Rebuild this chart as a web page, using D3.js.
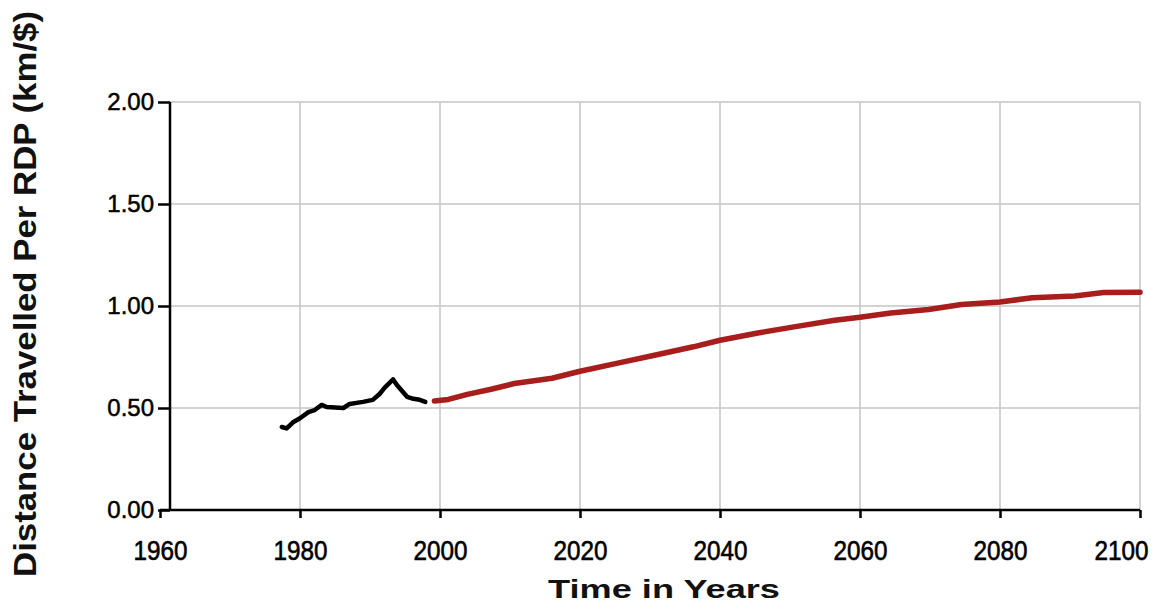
<!DOCTYPE html>
<html>
<head>
<meta charset="utf-8">
<script src="https://cdn.jsdelivr.net/npm/d3@7"></script>
<style>
  html, body { margin: 0; padding: 0; background: #fff; }
  svg { display: block; }
</style>
</head>
<body>
<script>
// ---- data ----
const histYears  = [1977.4, 1978.1, 1979.0, 1980.0, 1981.2, 1982.1, 1983.1, 1983.8, 1986.2, 1987.1, 1989.0, 1990.4, 1991.4, 1992.1, 1993.3, 1993.9, 1995.3, 1996.2, 1997.1, 1997.9];
const histValues = [0.407, 0.400, 0.430, 0.450, 0.480, 0.490, 0.515, 0.505, 0.500, 0.520, 0.530, 0.540, 0.570, 0.600, 0.640, 0.610, 0.555, 0.545, 0.540, 0.530];
const projYears  = [1999.2, 2001.2, 2003.9, 2007.3, 2010.6, 2016.0, 2020.0, 2025.4, 2030.8, 2036.2, 2040.0, 2045.6, 2051.0, 2056.4, 2060.0, 2064.4, 2069.8, 2074.5, 2080.0, 2084.6, 2090.7, 2094.8, 2100.0];
const projValues = [0.534, 0.542, 0.567, 0.592, 0.620, 0.646, 0.680, 0.720, 0.760, 0.800, 0.832, 0.869, 0.900, 0.930, 0.945, 0.966, 0.983, 1.007, 1.020, 1.040, 1.049, 1.066, 1.068];
const xTicks = [1960, 1980, 2000, 2020, 2040, 2060, 2080, 2100];
const yTicks = [0, 0.5, 1.0, 1.5, 2.0];
const xTitle = "Time in Years";
const yTitle = "Distance Travelled Per RDP (km/$)";

// ---- layout ----
const W = 1159, H = 611;
const svg = d3.select("body").append("svg").attr("width", W).attr("height", H);

const x = d3.scaleLinear().domain([1960, 2100]).range([160, 1140]);
const y = d3.scaleLinear().domain([0, 2]).range([510, 102]);
const yAxisX = x(1960) + 10;

// gridlines
svg.append("g").selectAll("line.v").data(xTicks.filter(d => d > 1960)).join("line")
  .attr("x1", d => x(d)).attr("x2", d => x(d))
  .attr("y1", y(2)).attr("y2", y(0))
  .attr("stroke", "#c4c4c4").attr("stroke-width", 1.5);
svg.append("g").selectAll("line.h").data(yTicks.filter(d => d > 0)).join("line")
  .attr("x1", yAxisX).attr("x2", x(2100))
  .attr("y1", d => y(d)).attr("y2", d => y(d))
  .attr("stroke", "#c4c4c4").attr("stroke-width", 1.5);

// x axis
const xAxis = d3.axisBottom(x).tickValues(xTicks).tickSize(8).tickPadding(16).tickFormat(d3.format("d"));
const gx = svg.append("g").attr("transform", `translate(0,${y(0)})`).call(xAxis);
gx.select(".domain").attr("stroke", "#000").attr("stroke-width", 2.5).attr("d", `M${x(1960)},0H${x(2100)}`);
gx.selectAll(".tick line").attr("stroke", "#000").attr("stroke-width", 2.5);
gx.selectAll(".tick text")
  .attr("font-family", "Liberation Sans, Arial, sans-serif")
  .attr("font-size", 27).attr("fill", "#000")
  .attr("stroke", "#000").attr("stroke-width", 0.6)
  .attr("dy", "0.95em")
  .attr("textLength", 54).attr("lengthAdjust", "spacingAndGlyphs")
  .attr("text-anchor", d => d === 2100 ? "end" : "middle")
  .attr("x", d => d === 2100 ? 8 : 0);

// y axis
const yAxis = d3.axisLeft(y).tickValues(yTicks).tickSize(12).tickPadding(4).tickFormat(d3.format(".2f"));
const gy = svg.append("g").attr("transform", `translate(${yAxisX},0)`).call(yAxis);
gy.select(".domain").attr("stroke", "#000").attr("stroke-width", 2.5).attr("d", `M0,${y(2)}V${y(0)}`);
gy.selectAll(".tick line").attr("stroke", "#000").attr("stroke-width", 2.5);
gy.selectAll(".tick text")
  .attr("font-family", "Liberation Sans, Arial, sans-serif")
  .attr("font-size", 24).attr("fill", "#000")
  .attr("stroke", "#000").attr("stroke-width", 0.5);

// lines
const line = d3.line().x(d => x(d[0])).y(d => y(d[1]));
svg.append("path")
  .datum(histYears.map((d, i) => [d, histValues[i]]))
  .attr("d", line).attr("fill", "none")
  .attr("stroke", "#000").attr("stroke-width", 4.5)
  .attr("stroke-linejoin", "round").attr("stroke-linecap", "round");
svg.append("path")
  .datum(projYears.map((d, i) => [d, projValues[i]]))
  .attr("d", line).attr("fill", "none")
  .attr("stroke", "#a81e1c").attr("stroke-width", 5.5)
  .attr("stroke-linejoin", "round").attr("stroke-linecap", "round");

// titles
svg.append("text")
  .attr("x", 664).attr("y", 598)
  .attr("text-anchor", "middle")
  .attr("font-family", "Liberation Sans, Arial, sans-serif")
  .attr("font-weight", "bold").attr("font-size", 25)
  .attr("textLength", 232).attr("lengthAdjust", "spacingAndGlyphs")
  .attr("fill", "#111")
  .text(xTitle);

svg.append("text")
  .attr("transform", "translate(36,294) scale(1.4,1) rotate(-90)")
  .attr("text-anchor", "middle")
  .attr("font-family", "Liberation Sans, Arial, sans-serif")
  .attr("font-weight", "bold").attr("font-size", 22)
  .attr("textLength", 566).attr("lengthAdjust", "spacingAndGlyphs")
  .attr("fill", "#111")
  .text(yTitle);
</script>
</body>
</html>
